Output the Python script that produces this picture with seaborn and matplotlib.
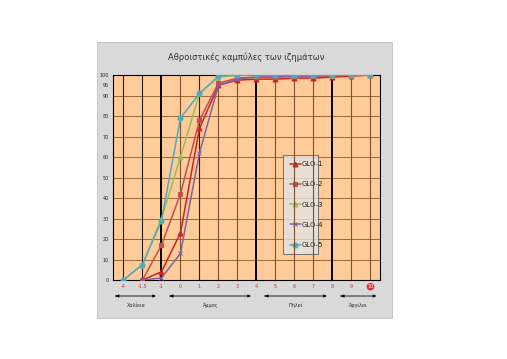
import numpy as np
import pandas as pd
import matplotlib
matplotlib.use("Agg")
import matplotlib.pyplot as plt
from matplotlib.patches import Rectangle
import seaborn as sns

# phi classes on the x axis (category positions 0..13)
phi_labels = ["-4", "-1.5", "-1", "0", "1", "2", "3", "4", "5", "6", "7", "8", "9", "10"]

# cumulative percentages (nan = no point)
glo_1 = [np.nan, 0, 4, 23, 74, 95, 97.5, 98, 98, 98.5, 98.5, 99, 99.5, 100]
glo_2 = [np.nan, 0, 17, 42, 78, 96, 98.5, 99, 99, 99.5, 99.5, 99.5, 100, 100]
glo_3 = [0, 7.5, 30, 60, 91, 99, 100, 100, 100, 100, 100, 100, 100, 100]
glo_4 = [np.nan, 0, 1, 13, 62, 95, 98, 99, 99, 99.5, 99.5, 100, 100, 100]
glo_5 = [0, 7.5, 29, 79, 91, 99.5, 100, 100, 100, 100, 100, 100, 100, 100]

series_names = ["GLO-1", "GLO-2", "GLO-3", "GLO-4", "GLO-5"]
series_colors = ["#D42020", "#C0504D", "#9BBB59", "#8064A2", "#4BACC6"]
series_markers = ["^", "s", "^", "x", "o"]

# grain-size classes under the axis
class_names = ["Χαλίκια", "Άμμος", "Πηλοί", "Άργιλοι"]
class_spans = [(-0.55, 1.85), (2.3, 6.85), (7.3, 10.85), (11.3, 13.45)]
y_ticks = [0, 10, 20, 30, 40, 50, 60, 70, 80, 90, 95, 100]

sns.set_style("white")
plt.rcParams["font.family"] = ["DejaVu Sans"]

fig = plt.figure(figsize=(5.07, 3.59), dpi=100)
bg = Rectangle((0.191, 0.114), 0.582, 0.769, transform=fig.transFigure,
               facecolor="#D9D9D9", edgecolor="#BFBFBF", lw=0.6, zorder=-5)
fig.add_artist(bg)
ax = fig.add_axes([0.2229, 0.22, 0.5266, 0.571])
ax.set_zorder(2)
ax.set_facecolor("#FFCC99")

for name, vals, col, mk in zip(series_names, [glo_1, glo_2, glo_3, glo_4, glo_5],
                               series_colors, series_markers):
    d = pd.DataFrame({"x": range(len(vals)), "pct": vals}).dropna()
    sns.lineplot(data=d, x="x", y="pct", color=col, marker=mk, markersize=3.5,
                 markeredgecolor=col, markeredgewidth=0.8, linewidth=1.1,
                 label=name, ax=ax, zorder=4)

# horizontal grid every 10%
for yv in range(10, 101, 10):
    ax.axhline(yv, color="#8B5A2B", lw=0.6, zorder=1)

# vertical lines at each category; thick black ones at class boundaries
for i in range(len(phi_labels)):
    if i in (2, 7, 11):
        ax.axvline(i, color="black", lw=1.4, zorder=3)
    elif i in (0, 1, 4):
        ax.axvline(i, color="#222222", lw=0.8, zorder=3)
    else:
        ax.axvline(i, color="#7A5230", lw=0.8, zorder=3)

ax.set_xlim(-0.55, 13.5)
ax.set_ylim(0, 100)
ax.set_xticks(range(len(phi_labels)))
ax.set_xticklabels(phi_labels, fontsize=3.5, color="#CC3333")
ax.set_yticks(y_ticks)
ax.set_yticklabels([str(t) for t in y_ticks], fontsize=3.5)
ax.tick_params(axis="both", length=0, pad=3)
last = ax.get_xticklabels()[-1]
last.set_color("white")
last.set_bbox(dict(boxstyle="circle,pad=0.15", facecolor="#E03030", edgecolor="none"))
ax.set_xlabel("")
ax.set_ylabel("")
for sp in ax.spines.values():
    sp.set_color("black")
    sp.set_linewidth(0.8)

ax.set_title("Αθροιστικές καμπύλες των ιζημάτων", fontsize=6, pad=11, color="#333333")

leg = ax.legend(loc="lower left", bbox_to_anchor=(0.625, 0.108, 0.155, 0.48),
                mode="expand", fontsize=5, frameon=True, labelspacing=2.05,
                handlelength=1.6, handletextpad=0.1, borderpad=0.9,
                fancybox=False)
leg.get_frame().set_facecolor("#E3E3E3")
leg.get_frame().set_edgecolor("#404040")
leg.get_frame().set_linewidth(0.6)
leg.set_zorder(2.5)

# class arrows under the axis
for (x0, x1), name in zip(class_spans, class_names):
    ax.annotate("", xy=(x1, -0.078), xytext=(x0, -0.078),
                xycoords=("data", "axes fraction"),
                arrowprops=dict(arrowstyle="-|>", lw=0.6, color="black",
                                mutation_scale=4))
    ax.annotate("", xy=(x0, -0.078), xytext=(x0 + 0.3, -0.078),
                xycoords=("data", "axes fraction"),
                arrowprops=dict(arrowstyle="-|>", lw=0.6, color="black",
                                mutation_scale=4))
    ax.text((x0 + x1) / 2, -0.11, name, transform=ax.get_xaxis_transform(),
            ha="center", va="top", fontsize=3.5)

fig.savefig("out.png", dpi=100)
